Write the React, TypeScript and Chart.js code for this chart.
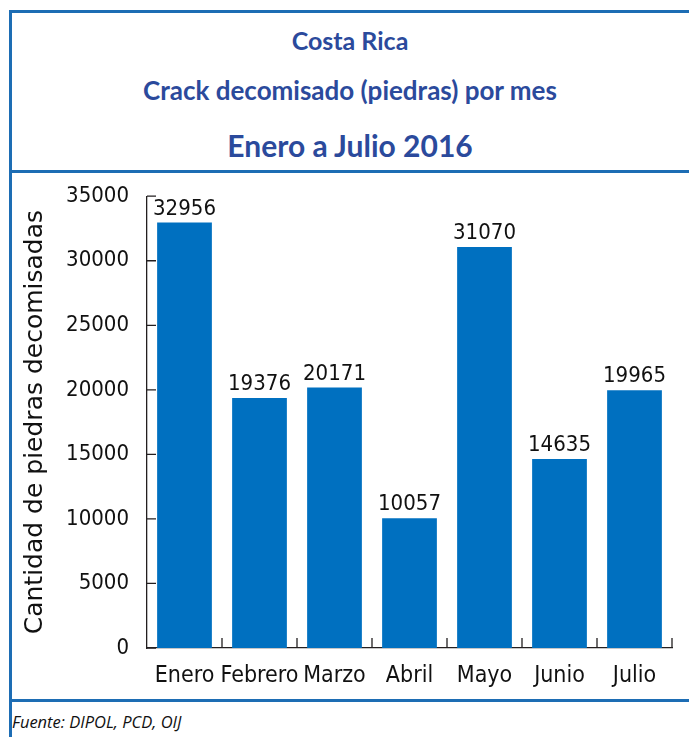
import React, { useEffect, useLayoutEffect, useRef } from 'react';
import { Chart, registerables } from 'chart.js';

Chart.register(...registerables);

// ---- data ----
const months: string[] = ['Enero', 'Febrero', 'Marzo', 'Abril', 'Mayo', 'Junio', 'Julio'];
const seizures: number[] = [32956, 19376, 20171, 10057, 31070, 14635, 19965];
const yMin = 0;
const yMax = 35000;
const yStep = 5000;
const titleLines: string[] = ['Costa Rica', 'Crack decomisado (piedras) por mes', 'Enero a Julio 2016'];
const yAxisTitle = 'Cantidad de piedras decomisadas';
const sourceNote = 'Fuente: DIPOL, PCD, OIJ';

// ---- styles ----
const FRAME = '#1d6db4';
const TITLE_COLOR = '#2b4a9c';
const BAR = '#0070c0';
const AXIS = '#231f20';
const TEXT = '#111111';
const TICK_FONT = '"DejaVu Sans Condensed", "DejaVu Sans", sans-serif';

const inwardTicks = {
  id: 'inwardTicks',
  afterDatasetsDraw(chart: any) {
    const { ctx, chartArea, scales } = chart;
    const x = scales.x;
    const y = scales.y;
    ctx.save();
    ctx.strokeStyle = AXIS;
    ctx.lineWidth = 1.3;
    ctx.beginPath();
    y.ticks.forEach((t: any) => {
      const py = y.getPixelForValue(t.value);
      ctx.moveTo(chartArea.left, py);
      ctx.lineTo(chartArea.left + 9, py);
    });
    const n = x.ticks.length;
    const w = x.getPixelForValue(1) - x.getPixelForValue(0);
    for (let i = 0; i < n; i++) {
      const px = x.getPixelForValue(i) + w / 2;
      ctx.moveTo(px, chartArea.bottom);
      ctx.lineTo(px, chartArea.bottom - 10);
    }
    ctx.stroke();
    ctx.restore();
  },
};

const valueLabels = {
  id: 'valueLabels',
  afterDatasetsDraw(chart: any) {
    const { ctx } = chart;
    const meta = chart.getDatasetMeta(0);
    const values = chart.data.datasets[0].data as number[];
    ctx.save();
    ctx.font = `22px ${TICK_FONT}`;
    ctx.fillStyle = TEXT;
    ctx.textAlign = 'center';
    ctx.textBaseline = 'alphabetic';
    meta.data.forEach((bar: any, i: number) => {
      ctx.fillText(String(values[i]), bar.x, bar.y - 8);
    });
    ctx.restore();
  },
};

export default function App() {
  const canvasRef = useRef<HTMLCanvasElement | null>(null);

  useLayoutEffect(() => {
    document.body.style.margin = '0';
    document.body.style.overflow = 'hidden';
    document.documentElement.style.overflow = 'hidden';
  }, []);

  useEffect(() => {
    if (!canvasRef.current) return;
    const chart = new Chart(canvasRef.current, {
      type: 'bar',
      data: {
        labels: months,
        datasets: [
          {
            data: seizures,
            backgroundColor: BAR,
            borderWidth: 0,
            barPercentage: 0.73,
            categoryPercentage: 1,
          },
        ],
      },
      options: {
        animation: false,
        responsive: false,
        devicePixelRatio: 1,
        layout: { padding: { top: 22, right: 17, left: 0, bottom: 0 } },
        plugins: {
          legend: { display: false },
          tooltip: { enabled: false },
          title: { display: false },
        },
        scales: {
          x: {
            grid: { display: false },
            border: { display: true, color: AXIS, width: 1.3 },
            ticks: {
              color: TEXT,
              font: { family: TICK_FONT, size: 23 },
              padding: 6,
              maxRotation: 0,
              autoSkip: false,
            },
            afterFit: (s: any) => {
              s.height = 51;
            },
          },
          y: {
            min: yMin,
            max: yMax,
            grid: { display: false },
            border: { display: true, color: AXIS, width: 1.3 },
            ticks: {
              stepSize: yStep,
              color: TEXT,
              font: { family: TICK_FONT, size: 22 },
              padding: 10,
              callback: (v: any) => String(v),
            },
            title: {
              display: true,
              text: yAxisTitle,
              color: TEXT,
              font: { family: '"DejaVu Sans", sans-serif', size: 25 },
              padding: { top: 8, bottom: 0 },
            },
            afterFit: (s: any) => {
              s.width = 135;
            },
          },
        },
      },
      plugins: [inwardTicks, valueLabels],
    } as any);
    return () => chart.destroy();
  }, []);

  const titleStyle = (top: number, size: number): React.CSSProperties => ({
    position: 'absolute',
    left: 9,
    width: 682,
    top,
    textAlign: 'center',
    fontFamily: 'Lato, "Open Sans", sans-serif',
    fontWeight: 700,
    fontSize: size,
    lineHeight: `${size * 1.2}px`,
    color: TITLE_COLOR,
    whiteSpace: 'nowrap',
  });

  const hLine = (top: number): React.CSSProperties => ({
    position: 'absolute',
    left: 9,
    top,
    width: 700,
    height: 3,
    background: FRAME,
  });

  return (
    <div
      style={{
        position: 'relative',
        width: 689,
        height: 737,
        overflow: 'hidden',
        background: '#ffffff',
      }}
    >
      <div style={{ position: 'absolute', left: 9, top: 10, width: 3, height: 740, background: FRAME }} />
      <div style={hLine(10)} />
      <div style={hLine(170)} />
      <div style={hLine(699)} />
      <div style={titleStyle(25, 25)}>{titleLines[0]}</div>
      <div style={titleStyle(74.5, 26)}>{titleLines[1]}</div>
      <div style={titleStyle(126.5, 30)}>{titleLines[2]}</div>
      <canvas
        ref={canvasRef}
        width={677}
        height={526}
        style={{ position: 'absolute', left: 12, top: 173, width: 677, height: 526 }}
      />
      <div
        style={{
          position: 'absolute',
          left: 12,
          top: 710.5,
          fontFamily: '"Open Sans", sans-serif',
          fontStyle: 'italic',
          fontSize: 16.5,
          lineHeight: '22px',
          color: TEXT,
          whiteSpace: 'nowrap',
        }}
      >
        {sourceNote}
      </div>
    </div>
  );
}
